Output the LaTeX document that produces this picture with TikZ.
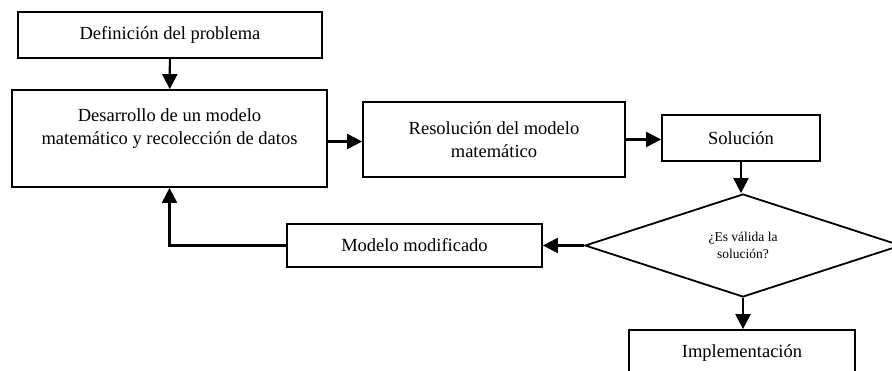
\documentclass[tikz,border=0pt]{standalone}
\usepackage{fontspec}
\setmainfont{Liberation Serif}
\usepackage{tikz}
\usetikzlibrary{positioning}
\usetikzlibrary{arrows.meta,shapes.geometric}
\tikzstyle{stepbox}=[rectangle,draw=black,line width=1.8pt,align=center,inner sep=2pt,font=\fontsize{18.5}{23.5}\selectfont]
\tikzstyle{decisionbox}=[diamond,draw=black,line width=1.8pt,align=center,inner sep=0pt,font=\fontsize{13.5}{17}\selectfont]
\tikzstyle{edge} = [draw,line width=2.2pt,-{Triangle[length=15pt,width=15pt]}]

\begin{document}
\begin{tikzpicture}[x=1pt,y=-1pt]
  \useasboundingbox (0,0) rectangle (892,371);
  \clip (0,0) rectangle (892,371);

  \foreach \pos/\name/\bw/\bh/\label in {{(170,35)/defin/304/46/{Definición del problema}},
      {(169.5,138.5)/desarrollo/315/97/{Desarrollo de un modelo\\matemático y recolección de datos\\ \mbox{}}},
      {(494,139.5)/resol/262/75/{Resolución del modelo\\matemático}},
      {(741,138)/sol/158/46/{Solución}},
      {(414.5,245.5)/modif/255/43/{Modelo modificado}},
      {(742,353)/impl/226/46/{Implementación}}}
        \node[stepbox,minimum width=\bw pt,minimum height=\bh pt] (\name) at \pos {\label};

  \node[decisionbox,minimum width=316pt,minimum height=103pt] (decision) at (743,245.5) {¿Es válida la\\solución?};

  % Connect steps with arrows
  \coordinate (desout) at ([yshift=-3pt]desarrollo.east);
  \path[edge] (defin) -- (desarrollo);
  \path[edge] (desout) -- (desout -| resol.west);
  \path[edge] (resol.east) -- (resol.east -| sol.west);
  \path[edge] (sol.south) -- (sol.south |- decision.north);
  \path[edge] (decision.south) -- (decision.south |- impl.north);
  \path[edge] (decision.west) -- (modif.east);
  \path[edge] (modif.west) -| (desarrollo.south);

\end{tikzpicture}
\end{document}
